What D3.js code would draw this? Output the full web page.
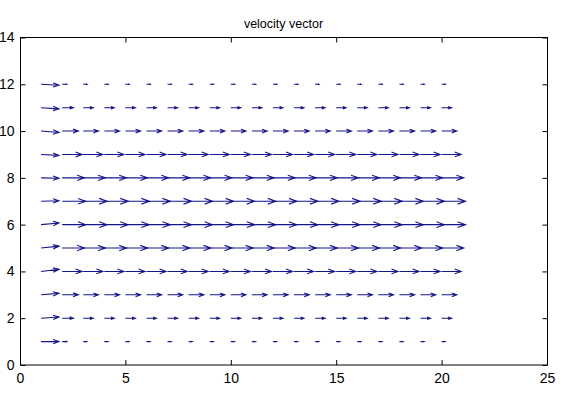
<!DOCTYPE html>
<html>
<head>
<meta charset="utf-8">
<script src="https://cdn.jsdelivr.net/npm/d3@7"></script>
<style>
  html, body { margin: 0; padding: 0; background: #ffffff; }
  svg { display: block; }
  text { font-family: "Liberation Sans", Arial, Helvetica, sans-serif; fill: #000; }
</style>
</head>
<body>
<svg id="chart" width="572" height="394"></svg>
<script>
// ---- data ----
const titleText = "velocity vector";
const xPositions = [1, 2, 3, 4, 5, 6, 7, 8, 9, 10, 11, 12, 13, 14, 15, 16, 17, 18, 19, 20];
const yPositions = [1, 2, 3, 4, 5, 6, 7, 8, 9, 10, 11, 12];
// column x=1 (inlet): horizontal and vertical components, rows y=1..12
const uInlet = [0.85, 0.85, 0.85, 0.85, 0.85, 0.85, 0.85, 0.85, 0.85, 0.85, 0.85, 0.85];
const vInlet = [0.00, 0.05, 0.06, 0.09, 0.08, 0.07, 0.02, -0.02, -0.04, -0.06, -0.05, -0.04];
// column x=2, rows y=1..12
const uSecond = [0.22, 0.53, 0.77, 0.95, 1.06, 1.12, 1.12, 1.06, 0.95, 0.77, 0.53, 0.22];
// columns x=3..20 (developed profile), rows y=1..12
const uDeveloped = [0.18, 0.47, 0.72, 0.93, 1.05, 1.13, 1.13, 1.05, 0.93, 0.72, 0.47, 0.18];
const xTicks = [0, 5, 10, 15, 20, 25];
const yTicks = [0, 2, 4, 6, 8, 10, 12, 14];

// ---- layout ----
const svg = d3.select("#chart");
const mLeft = 20, mRight = 547, mTop = 37.5, mBottom = 365;
const x = d3.scaleLinear().domain([0, 25]).range([mLeft, mRight]);
const y = d3.scaleLinear().domain([0, 14]).range([mBottom, mTop]);
const arrowColor = "#16168c";

// build vectors
const vectors = [];
xPositions.forEach((xv, ci) => {
  yPositions.forEach((yv, ri) => {
    let u, v;
    if (ci === 0) { u = uInlet[ri]; v = vInlet[ri]; }
    else if (ci === 1) { u = uSecond[ri]; v = 0; }
    else { u = uDeveloped[ri]; v = 0; }
    vectors.push({ x: xv, y: yv, u, v });
  });
});

// arrows (MATLAB quiver style heads)
const alpha = 0.33, beta = 0.33;
const g = svg.append("g");
g.selectAll("path.arrow")
  .data(vectors)
  .enter().append("path")
  .attr("class", "arrow")
  .attr("fill", "none")
  .attr("stroke", arrowColor)
  .attr("stroke-width", 1.1)
  .attr("d", d => {
    const tx = d.x + d.u, ty = d.y + d.v;
    const h1x = tx - alpha * (d.u + beta * d.v), h1y = ty - alpha * (d.v - beta * d.u);
    const h2x = tx - alpha * (d.u - beta * d.v), h2y = ty - alpha * (d.v + beta * d.u);
    return `M${x(d.x)},${y(d.y)}L${x(tx)},${y(ty)}` +
           `M${x(h1x)},${y(h1y)}L${x(tx)},${y(ty)}L${x(h2x)},${y(h2y)}`;
  });

// axes box
svg.append("rect")
  .attr("x", mLeft + 0.5).attr("y", mTop)
  .attr("width", mRight - mLeft).attr("height", mBottom - mTop)
  .attr("fill", "none").attr("stroke", "#000").attr("stroke-width", 1);

const tickLen = 5;
const axB = d3.axisBottom(x).tickValues(xTicks).tickSize(-tickLen).tickPadding(8).tickFormat(d3.format("d"));
const axT = d3.axisTop(x).tickValues(xTicks).tickSize(-tickLen).tickFormat("");
const axL = d3.axisLeft(y).tickValues(yTicks).tickSize(-tickLen).tickPadding(6).tickFormat(d3.format("d"));
const axR = d3.axisRight(y).tickValues(yTicks).tickSize(-tickLen).tickFormat("");

function style(sel) {
  sel.select(".domain").remove();
  sel.selectAll("line").attr("stroke", "#000");
  sel.selectAll("text").attr("font-size", "14px").attr("fill", "#000")
     .style("font-family", '"Liberation Sans", Arial, sans-serif');
}
svg.append("g").attr("transform", `translate(0,${mBottom})`).call(axB).call(style);
svg.append("g").attr("transform", `translate(0,${mTop})`).call(axT).call(style);
svg.append("g").attr("transform", `translate(${mLeft + 0.5},0)`).call(axL).call(style);
svg.append("g").attr("transform", `translate(${mRight + 0.5},0)`).call(axR).call(style);

// title
svg.append("text")
  .attr("x", (mLeft + mRight) / 2).attr("y", 28)
  .attr("text-anchor", "middle")
  .attr("font-size", "12.5px")
  .text(titleText);
</script>
</body>
</html>
